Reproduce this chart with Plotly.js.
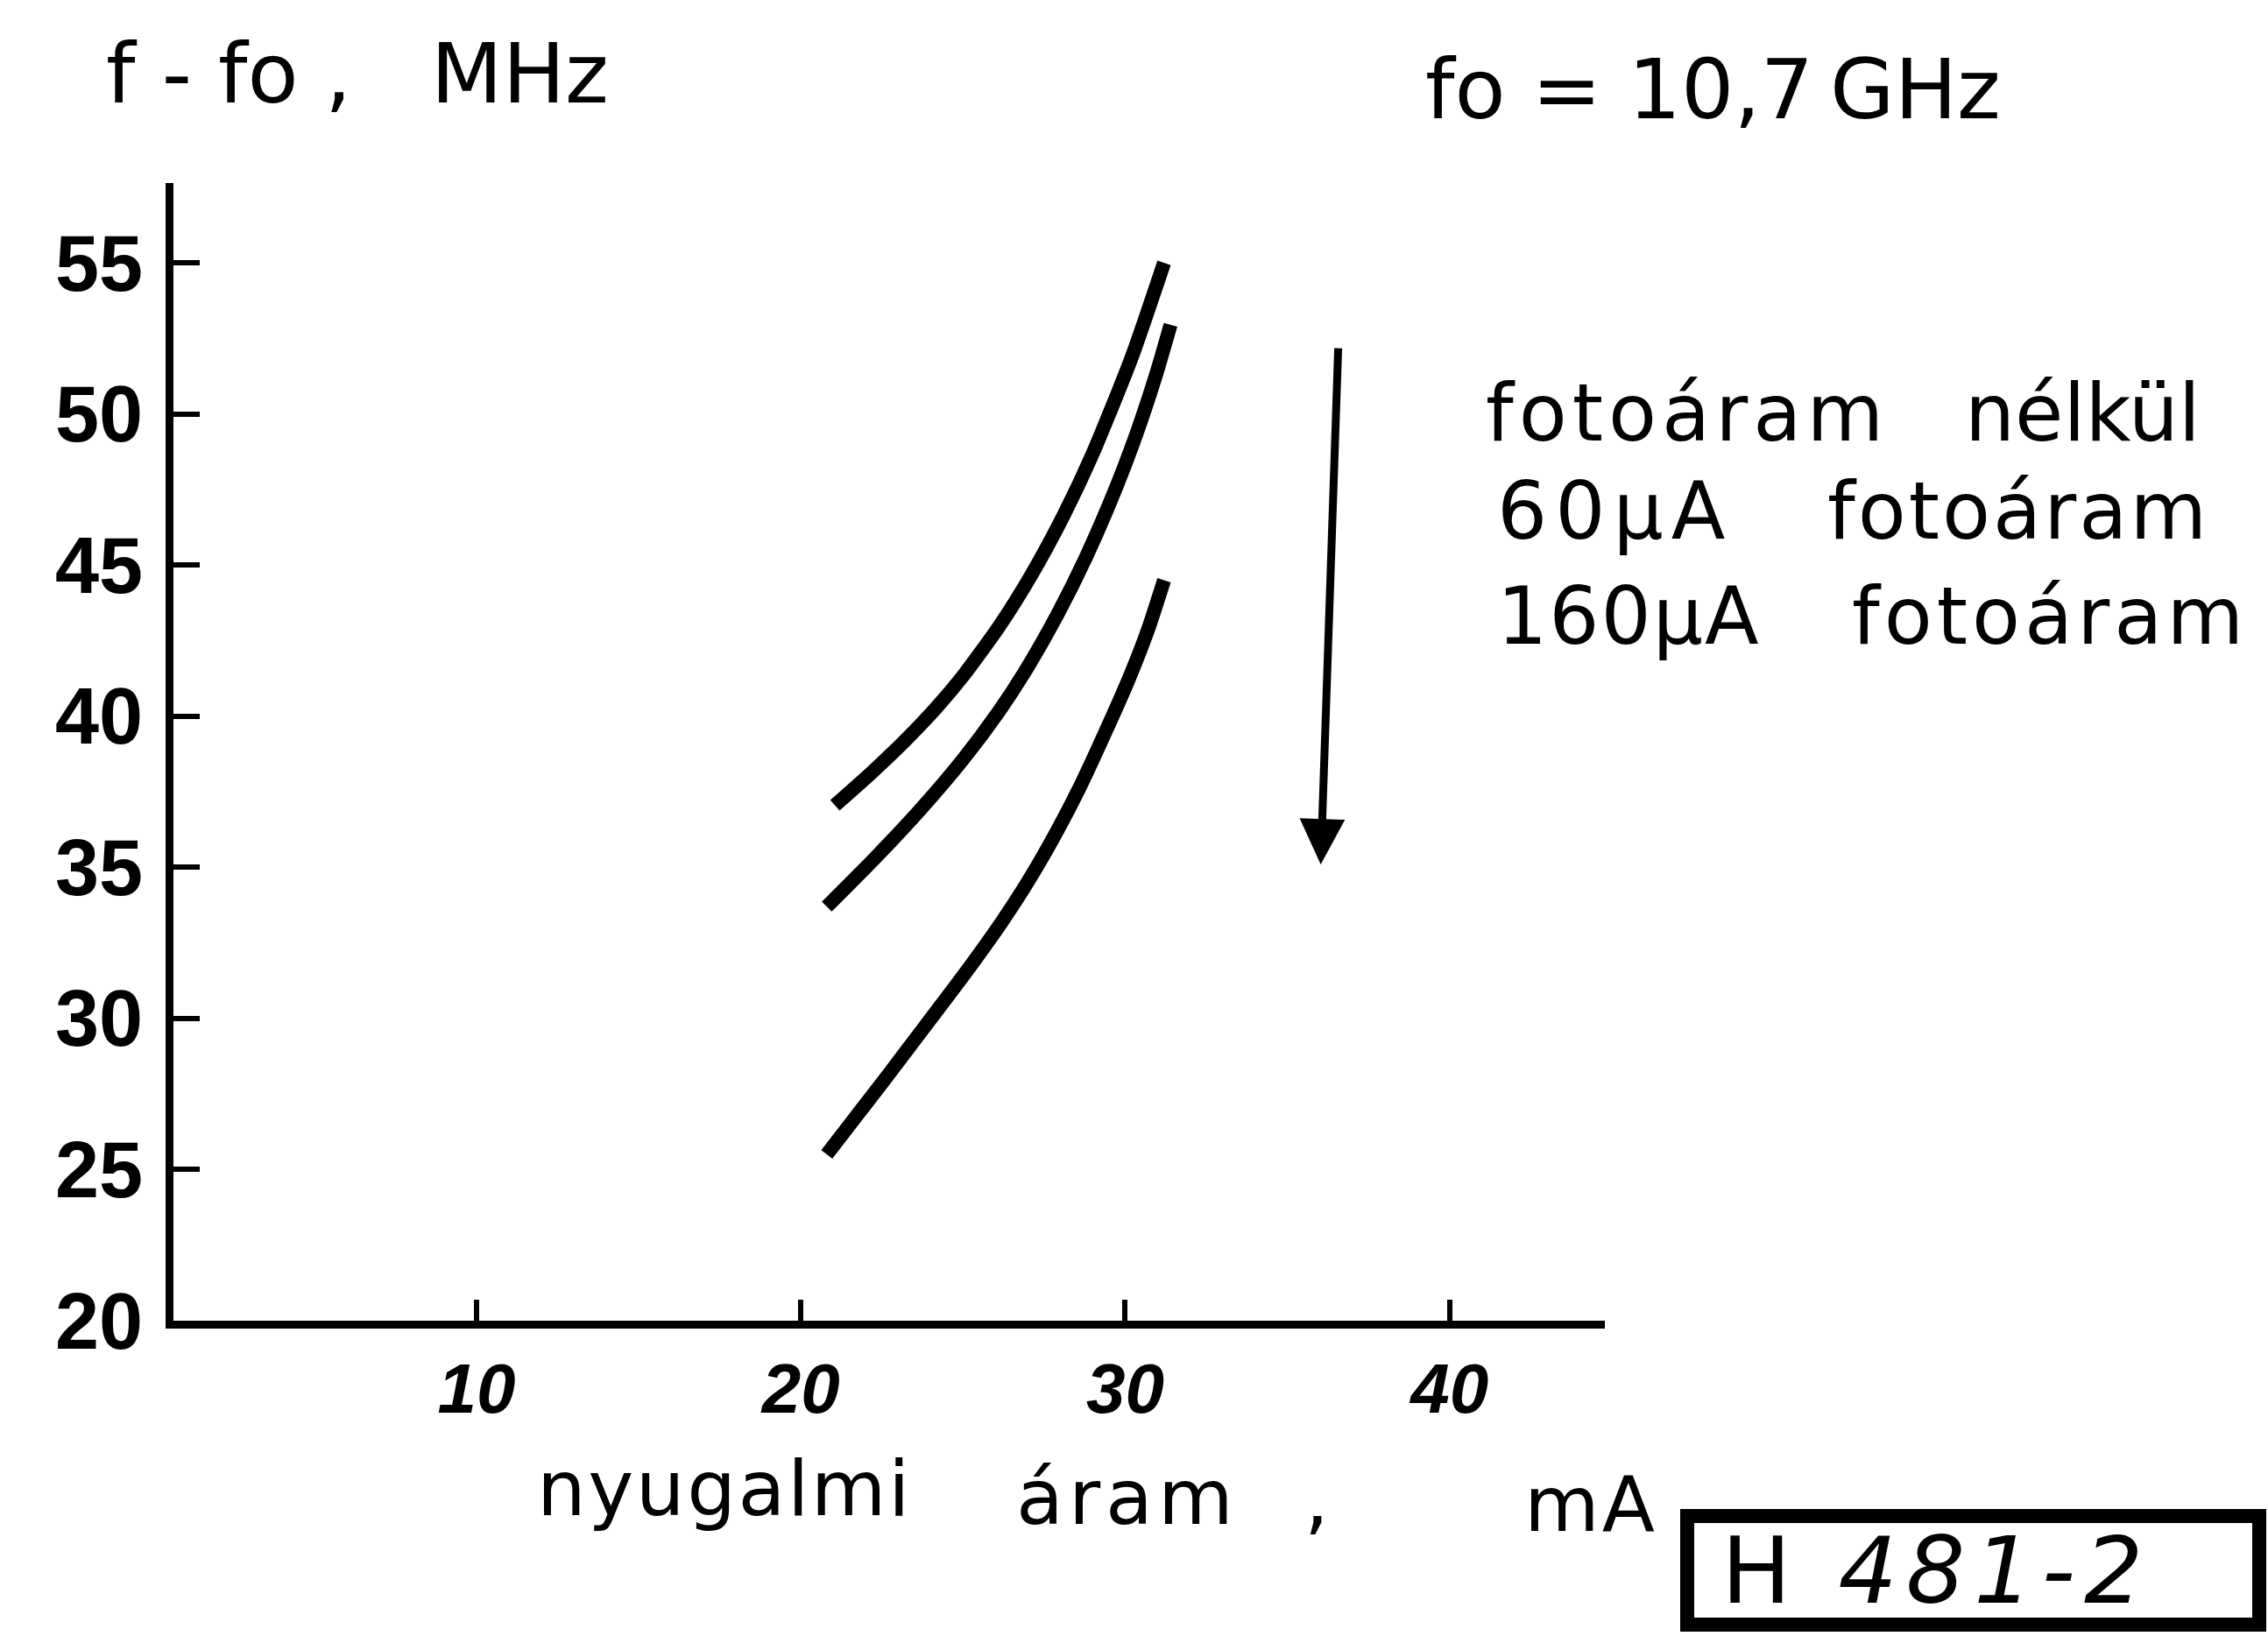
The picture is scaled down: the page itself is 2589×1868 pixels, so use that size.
<!DOCTYPE html>
<html>
<head>
<meta charset="utf-8">
<script src="https://cdn.plot.ly/plotly-3.0.1.min.js"></script>
<style>
  html, body { margin: 0; padding: 0; background: #ffffff; }
  #chart { width: 2589px; height: 1868px; }
</style>
</head>
<body>
<div id="chart"></div>
<script>
// ---- data ----
// x: nyugalmi áram (mA), y: f - fo (MHz)
const seriesNames = ['fotoáram nélkül', '60\u00B5A fotoáram', '160\u00B5A fotoáram'];

const currentNoLight = [21.05, 22.2, 23.2, 24.2, 25.0, 26.1, 27.1, 28.1, 29.0, 30.2, 31.2];
const freqNoLight    = [37.05, 38.15, 39.18, 40.31, 41.33, 42.95, 44.66, 46.64, 48.69, 51.87, 55.0];

const current60uA = [20.8, 22.3, 23.7, 25.0, 26.1, 26.9, 27.9, 28.8, 29.7, 30.35, 30.95, 31.4];
const freq60uA    = [33.7, 35.32, 36.93, 38.57, 40.15, 41.46, 43.34, 45.28, 47.51, 49.35, 51.29, 52.95];

const current160uA = [20.8, 21.3, 22.6, 23.8, 25.0, 26.2, 27.1, 27.9, 28.6, 29.4, 30.1, 30.7, 31.2];
const freq160uA    = [25.5, 26.2, 28.0, 29.7, 31.4, 33.2, 34.7, 36.2, 37.65, 39.5, 41.2, 42.85, 44.5];

// arrow: direction of increasing photocurrent (start -> end), in data units
const arrowStart = [36.57, 52.22];
const arrowEnd   = [36.03, 35.10];

const xTickVals = [10, 20, 30, 40];
const yTickVals = [20, 25, 30, 35, 40, 45, 50, 55];

// ---- layout helpers (page pixels -> paper fractions) ----
const W = 2589, H = 1868;
const L = 198, R = 1832, T = 209, B = 1508;
const px = v => (v - L) / (R - L);
const py = v => (B - v) / (B - T);

const FONT = 'DejaVu Sans, Noto Sans, sans-serif';

function word(text, left, baseline, size, ls, extra) {
  const t = ls ? '<span style="letter-spacing:' + ls + 'px">' + text + '</span>' : text;
  return Object.assign({
    text: t,
    xref: 'paper', yref: 'paper',
    x: px(left), y: py(baseline - 0.346 * size),
    xanchor: 'left', yanchor: 'middle',
    showarrow: false,
    borderpad: 0,
    font: { family: FONT, size: size, color: '#000' }
  }, extra || {});
}

const lineStyle = { color: '#000', width: 16, shape: 'spline', smoothing: 0.6 };

const traces = [
  { x: currentNoLight, y: freqNoLight, name: seriesNames[0], mode: 'lines', line: lineStyle },
  { x: current60uA,   y: freq60uA,   name: seriesNames[1], mode: 'lines', line: lineStyle },
  { x: current160uA,  y: freq160uA,  name: seriesNames[2], mode: 'lines', line: lineStyle }
];

const annotations = [
  // y-axis label (top-left)
  word('f\u00A0-\u00A0fo\u00A0,\u00A0\u00A0\u00A0MHz', 120, 117, 95),
  // f0 note
  word('fo\u00A0=\u00A010,7\u2009GHz', 1626, 135, 95),
  // legend-like text
  word('fotoáram', 1695, 503, 90, 6),
  word('nélkül', 2242, 503, 90, 0),
  word('60\u00B5A', 1708, 615, 90, 9),
  word('fotoáram', 2085, 615, 90, 3),
  word('160\u00B5A', 1708, 735, 90, 2),
  word('fotoáram', 2113, 735, 90, 5),
  // x-axis label
  word('nyugalmi', 612, 1730, 88, 2.5),
  word('áram', 1159, 1740, 88, 6),
  word(',', 1488, 1742, 88, 0),
  word('mA', 1739, 1748, 88, 3),
  // box label
  word('H\u00A0<i>481-2</i>', 1964, 1830, 106, 10),
  // arrow
  {
    text: '', xref: 'x', yref: 'y', axref: 'x', ayref: 'y',
    x: arrowEnd[0], y: arrowEnd[1], ax: arrowStart[0], ay: arrowStart[1],
    showarrow: true, arrowhead: 2, arrowsize: 1.15, arrowwidth: 9, arrowcolor: '#000'
  }
];

const shapes = [
  {
    type: 'rect', xref: 'paper', yref: 'paper',
    x0: px(1926), x1: px(2579), y0: py(1855), y1: py(1731),
    line: { color: '#000', width: 16 }, fillcolor: 'rgba(0,0,0,0)'
  }
];

const layout = {
  width: W, height: H,
  margin: { l: L, r: W - R, t: T, b: H - B, pad: 0 },
  paper_bgcolor: '#fff', plot_bgcolor: '#fff',
  showlegend: false,
  xaxis: {
    range: [0.656, 44.79],
    showgrid: false, zeroline: false,
    showline: true, linecolor: '#000', linewidth: 9,
    ticks: 'inside', ticklen: 24, tickwidth: 6, tickcolor: '#000',
    tickvals: xTickVals, ticktext: xTickVals.map(String),
    ticklabelstandoff: 0,
    tickfont: { family: 'Liberation Sans Narrow, Liberation Sans, Arial, sans-serif', size: 80, color: '#000', style: 'italic', weight: 'bold' }
  },
  yaxis: {
    range: [20, 57.64],
    showgrid: false, zeroline: false,
    showline: true, linecolor: '#000', linewidth: 9,
    ticks: 'inside', ticklen: 30, tickwidth: 6, tickcolor: '#000',
    tickvals: yTickVals, ticktext: yTickVals.map(String),
    ticklabelstandoff: 8,
    tickfont: { family: 'Liberation Sans, Arial, sans-serif', size: 90, color: '#000', weight: 'bold' }
  },
  annotations: annotations,
  shapes: shapes
};

Plotly.newPlot('chart', traces, layout, { staticPlot: true, displayModeBar: false });
</script>
</body>
</html>
